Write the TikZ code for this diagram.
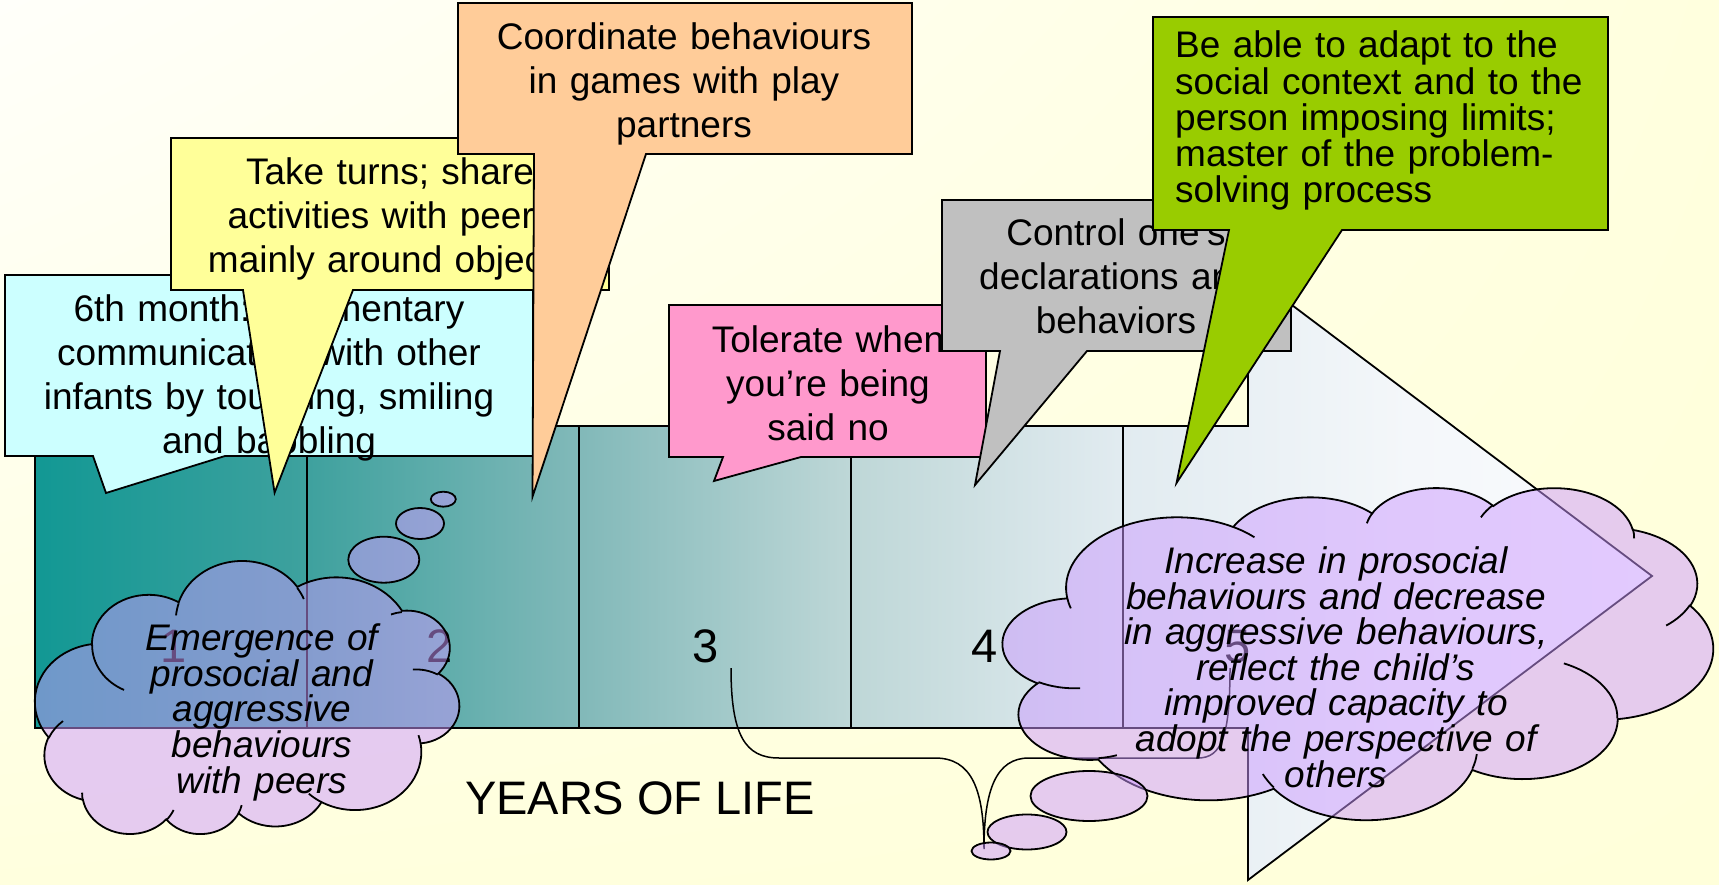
\documentclass[tikz,border=0pt]{standalone}
\usepackage{fontspec}
\setmainfont{Liberation Sans}
\usetikzlibrary{shapes.geometric,shadings}
\definecolor{cyanbox}{RGB}{204,255,255}
\definecolor{yellowbox}{RGB}{255,255,153}
\definecolor{orangebox}{RGB}{255,204,153}
\definecolor{pinkbox}{RGB}{255,153,204}
\definecolor{graybox}{RGB}{192,192,192}
\definecolor{greenbox}{RGB}{153,204,0}
\definecolor{cloudlilac}{RGB}{204,153,255}
\definecolor{paperA}{RGB}{255,255,250}
\definecolor{paperB}{RGB}{255,255,222}
\definecolor{paperC}{RGB}{255,255,218}
\definecolor{arrowA}{RGB}{18,152,148}
\definecolor{arrowB}{RGB}{62,161,158}
\definecolor{arrowC}{RGB}{130,185,185}
\definecolor{arrowD}{RGB}{190,215,215}
\definecolor{arrowE}{RGB}{225,235,240}
\definecolor{arrowF}{RGB}{244,247,250}
\definecolor{arrowG}{RGB}{250,252,254}
\pgfdeclarehorizontalshading{arrowfade}{100bp}{color(0bp)=(arrowA); color(25bp)=(arrowA); color(33.4bp)=(arrowB); color(41.9bp)=(arrowC); color(50.2bp)=(arrowD); color(58.5bp)=(arrowE); color(67.5bp)=(arrowF); color(75bp)=(arrowG); color(100bp)=(arrowG)}
\tikzset{
  calloutbox/.style={draw, line width=1.8pt, line join=miter},
  calltext/.style={font=\fontsize{37}{44}\selectfont, text width=560pt, align=center, inner sep=0pt, anchor=base},
  cloudtext/.style={font=\itshape\fontsize{37}{35.6}\selectfont, text width=560pt, align=center, inner sep=0pt, anchor=base},
  thoughtcloud/.style={draw, line width=1.8pt, fill=cloudlilac, fill opacity=0.5},
  cloudseam/.style={draw, line width=1.8pt},
  thoughtpuff/.style={ellipse, draw, line width=1.8pt, fill=cloudlilac, fill opacity=0.5, inner sep=0pt},
  yearnum/.style={font=\fontsize{47}{56}\selectfont, inner sep=0pt, anchor=base},
}
% cloud outline in a 100 x 100 box
\newcommand\pptcloud[4]{%
\begin{scope}[shift={(#1,#2)}, xscale=#3, yscale=#4]
\draw[thoughtcloud] (9.028,33.264)
 arc[start angle=-187.745, end angle=-59.637, x radius=15.632, y radius=21.273]
 arc[start angle=-152.01, end angle=-45.45, x radius=12.345, y radius=16.822]
 arc[start angle=-153.49, end angle=-37.32, x radius=10.104, y radius=13.762]
 arc[start angle=-139.71, end angle=-10.21, x radius=11.243, y radius=15.266]
 arc[start angle=-74.77, end angle=23.21, x radius=12.345, y radius=16.836]
 arc[start angle=-37.52, end angle=81.86, x radius=15.683, y radius=21.343]
 arc[start angle=0.46, end angle=121.98, x radius=13.391, y radius=18.211]
 arc[start angle=16.85, end angle=146.24, x radius=15.630, y radius=21.331]
 arc[start angle=58.98, end angle=150.20, x radius=17.870, y radius=24.405]
 arc[start angle=-276.69, end angle=-136.91, x radius=10.093, y radius=13.699]
 arc[start angle=-239.65, end angle=-95.89, x radius=10.058, y radius=13.762]
 -- cycle;
\draw[cloudseam]
 (10.863,60.595) arc[start angle=85.55, end angle=120.36, x radius=10.058, y radius=13.762]
 (16.037,80.785) arc[start angle=68.23, end angle=83.30, x radius=10.093, y radius=13.699]
 (38.144,90.486) arc[start angle=146.23, end angle=158.47, x radius=15.630, y radius=21.331]
 (66.729,80.442) arc[start angle=4.74, end angle=16.85, x radius=15.630, y radius=21.331]
 (79.002,53.134) arc[start angle=-64.03, end angle=0.46, x radius=13.391, y radius=18.211]
 (96.755,35.542) arc[start angle=23.21, end angle=49.64, x radius=12.345, y radius=16.836]
 (88.713,12.560) arc[start angle=-10.21, end angle=0.82, x radius=11.243, y radius=15.266]
 (67.310,9.148) arc[start angle=-156.28, end angle=-139.71, x radius=11.243, y radius=15.266]
 (51.252,10.926) arc[start angle=-167.72, end angle=-153.49, x radius=10.104, y radius=13.762]
 (32.407,12.019) arc[start angle=-59.64, end angle=-45.75, x radius=15.632, y radius=21.273]
 (9.553,36.549) arc[start angle=163.19, end angle=172.26, x radius=15.632, y radius=21.273];
\end{scope}}
\begin{document}
\begin{tikzpicture}[x=1pt,y=-1pt]
\useasboundingbox (0,0) rectangle (1719,885);
\shade[upper left=paperA, upper right=paperB, lower left=paperB, lower right=paperC] (0,0) rectangle (1719,885);

\draw[shading=arrowfade, line width=1.8pt, line join=miter] (35,426) -- (1248,426) -- (1248,272) -- (1652,576) -- (1248,880) -- (1248,728) -- (35,728) -- cycle;
\draw[line width=1.8pt] (307,426) -- (307,728);
\draw[line width=1.8pt] (579,426) -- (579,728);
\draw[line width=1.8pt] (851,426) -- (851,728);
\draw[line width=1.8pt] (1123,426) -- (1123,728);

\node[yearnum] (yr1) at (174,662.7) {1};
\node[yearnum] (yr2) at (440,662.7) {2};
\node[yearnum] (yr3) at (706,662.7) {3};
\node[yearnum] (yr4) at (985,662.7) {4};
\node[yearnum] (yr5) at (1238,662.7) {5};
\node[yearnum] (yearslabel) at (640,814) {YEARS OF LIFE};

\coordinate (brace3) at (731,668);
\coordinate (bracetip) at (984,849);
\coordinate (brace5) at (1230,668);
\draw[line width=1.5pt] (brace3) .. controls +(0,67) and +(-34,0) .. (779,758) -- (935,758) .. controls +(37,0) and +(0,-59) .. (bracetip) .. controls +(0,-59) and +(-33,0) .. (1029,758) -- (1198,758) .. controls +(24,0) and +(0,67) .. (brace5);

\draw[calloutbox, fill=cyanbox] (5,275) -- (533,275) -- (533,456) -- (225,456) -- (106,493) -- (93,456) -- (5,456) -- cycle;
\node[calltext] (month6) at (269,321.7) {6th month: rudimentary\\communication with other\\infants by touching, smiling\\and babbling};

\draw[calloutbox, fill=yellowbox] (171,138) -- (609,138) -- (609,290) -- (353,290) -- (274.6,492.7) -- (243,290) -- (171,290) -- cycle;
\node[calltext] (taketurns) at (390,185) {Take turns; share\\activities with peers\\mainly around objects};

\draw[calloutbox, fill=orangebox] (458,3) -- (912,3) -- (912,154) -- (646,154) -- (532.5,496.7) -- (534,154) -- (458,154) -- cycle;
\node[calltext] (coordinate) at (684,49.3) {Coordinate behaviours\\in games with play\\partners};

\draw[calloutbox, fill=pinkbox] (669,305) -- (986,305) -- (986,457) -- (801,457) -- (714,481) -- (723,457) -- (669,457) -- cycle;
\node[calltext] (tolerate) at (828,352.5) {Tolerate when\\you’re being\\said no};

\draw[calloutbox, fill=graybox] (942,200) -- (1291,200) -- (1291,351) -- (1087,351) -- (975,485) -- (1000,351) -- (942,351) -- cycle;
\node[calltext] (control) at (1116,246) {Control one’s\\declarations and\\behaviors};

\draw[calloutbox, fill=greenbox] (1153,17) -- (1608,17) -- (1608,230) -- (1342,230) -- (1176.5,483) -- (1229,230) -- (1153,230) -- cycle;
\node[calltext, font=\fontsize{37}{36.2}\selectfont, text width=440pt, align=left, anchor=base west] (adapt) at (1175,58) {Be able to adapt to the\\social context and to the\\person imposing limits;\\master of the problem-\\solving process};

\pptcloud{459}{835}{-4.24}{-2.73}
\node[thoughtpuff, minimum width=71pt, minimum height=46pt] (puffL3) at (383.8,559.7) {};
\node[thoughtpuff, minimum width=48pt, minimum height=31pt] (puffL2) at (420,523.5) {};
\node[thoughtpuff, minimum width=25pt, minimum height=15pt] (puffL1) at (443.3,499.2) {};
\node[cloudtext] (emergence) at (262,650.7) {Emergence of\\prosocial and\\aggressive\\behaviours\\with peers};

\pptcloud{1003}{487}{7.10}{3.32}
\node[thoughtpuff, minimum width=117pt, minimum height=50pt] (puffR3) at (1089,796) {};
\node[thoughtpuff, minimum width=79pt, minimum height=35pt] (puffR2) at (1027,832) {};
\node[thoughtpuff, minimum width=39pt, minimum height=17pt] (puffR1) at (991,851) {};
\node[cloudtext] (increase) at (1336,573.5) {Increase in prosocial\\behaviours and decrease\\in aggressive behaviours,\\reflect the child’s\\improved capacity to\\adopt the perspective of\\others};
\end{tikzpicture}
\end{document}
